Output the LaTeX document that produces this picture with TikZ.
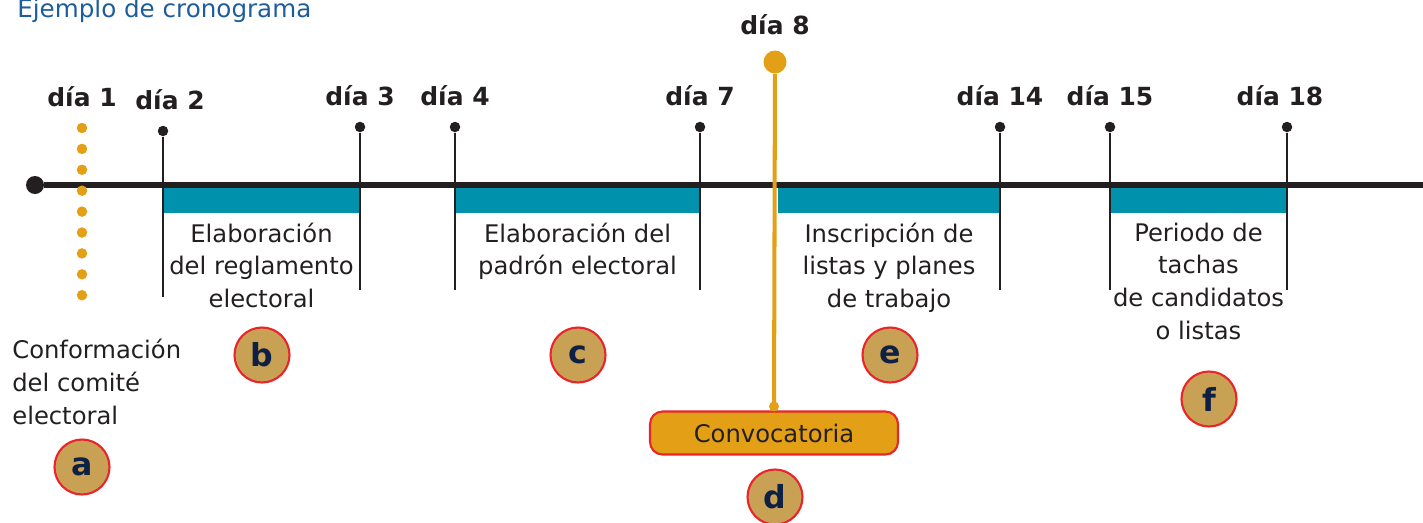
\documentclass[tikz,border=0pt]{standalone}
\usepackage{fontspec}
\setmainfont{DejaVu Sans}
\usepackage{xcolor}
\usetikzlibrary{positioning,calc}

\definecolor{ink}{HTML}{231F20}
\definecolor{barblue}{HTML}{0091AC}
\definecolor{dayorange}{HTML}{E3A017}
\definecolor{badgefill}{HTML}{C9A154}
\definecolor{badgered}{HTML}{E8252B}
\definecolor{navy}{HTML}{0E2145}
\definecolor{titleblue}{HTML}{1D5D9B}

\begin{document}
\begin{tikzpicture}[x=0.02cm,y=-0.02cm,
font=\fontsize{13.8}{18.7}\selectfont, text=ink]

\tikzstyle{tickdot}=[circle, fill=ink, inner sep=0pt, minimum size=0.21cm]
\tikzstyle{tickline}=[ink, line width=1.1pt]
\tikzstyle{daylab}=[font=\fontsize{14.2}{16}\selectfont\bfseries, inner sep=0pt]
\tikzstyle{bar}=[rectangle, fill=barblue, inner sep=0pt, minimum height=0.5cm]
\tikzstyle{phase}=[align=center, inner sep=0pt]
\tikzstyle{odot}=[circle, fill=dayorange, inner sep=0pt, minimum size=0.21cm]
\tikzstyle{badge}=[circle, fill=badgefill, draw=badgered, line width=1.2pt,
minimum size=1.1cm, inner sep=0pt, text=navy, font=\fontsize{18}{18}\selectfont\bfseries]
\tikzstyle{convbox}=[rectangle, rounded corners=0.25cm, fill=dayorange, draw=badgered,
line width=1.2pt, minimum width=4.96cm, minimum height=0.86cm]

\useasboundingbox (0,0) rectangle (1423,522);

%title
\node[anchor=base west, inner sep=0pt, text=titleblue, font=\fontsize{14}{14}\selectfont]
(title) at (17,17) {Ejemplo de cronograma};

%bars
\node[bar, minimum width=3.94cm] (bb) at (261.5,200.5) {};
\node[bar, minimum width=4.9cm] (bc) at (577.5,200.5) {};
\node[bar, minimum width=4.44cm] (be) at (889,200.5) {};
\node[bar, minimum width=3.54cm] (bf) at (1198.5,200.5) {};

%main line
\node[circle, fill=ink, inner sep=0pt, minimum size=0.36cm] (start) at (35,185) {};
\coordinate (end) at (1423,185);
\draw[ink, line width=3.3pt] (start) -- (end);

%day ticks
\node[odot] (d1) at (82,128) {};
\foreach \i in {1,...,8}
  \node[odot] (o\i) at (82,{128+20.9*\i}) {};
\node[daylab] (l1) [above=0.3cm of d1] {día 1};

\foreach \x/\n/\t/\b in {163/2/131/297, 360/3/127/290, 455/4/127/290, 700/7/127/290,
  1000/14/127/290, 1110/15/127/290, 1287/18/127/290}{
  \node[tickdot] (d\n) at (\x,\t) {};
  \coordinate (b\n) at (\x,\b);
  \draw[tickline] (d\n) -- (b\n);
}
\node[daylab] (l2) [above=0.3cm of d2, xshift=0.14cm] {día 2};
\node[daylab] (l3) [above=0.3cm of d3] {día 3};
\node[daylab] (l4) [above=0.3cm of d4] {día 4};
\node[daylab] (l7) [above=0.3cm of d7] {día 7};
\node[daylab] (l14) [above=0.3cm of d14] {día 14};
\node[daylab] (l15) [above=0.3cm of d15] {día 15};
\node[daylab] (l18) [above=0.3cm of d18, xshift=-0.14cm] {día 18};

%day 8
\node[circle, fill=dayorange, inner sep=0pt, minimum size=0.46cm] (d8) at (775,62) {};
\node[daylab] (l8) [above=0.3cm of d8] {día 8};
\node[convbox] (conv) at (774,433) {Convocatoria};
\draw[dayorange, line width=2.3pt] (d8) -- (conv.north);
\fill[dayorange] ($(conv.north)+(0,-4)$) circle (0.1cm);

%phase texts
\node[phase, align=left, anchor=north west] (ta) at (12,339) {Conformación\\del comité\\electoral};
\node[phase] (tb) [below=0.18cm of bb] {Elaboración\\del reglamento\\electoral};
\node[phase] (tc) [below=0.18cm of bc] {Elaboración del\\padrón electoral};
\node[phase] (te) [below=0.18cm of be] {Inscripción de\\listas y planes\\de trabajo};
\node[phase] (tf) [below=0.18cm of bf] {Periodo de\\tachas\\de candidatos\\o listas};

%badges
\node[badge] (ba) at (82,467) {a};
\node[badge] (bdb) at (262,355) {b};
\node[badge] (bdc) at (578,355) {c};
\node[badge] (bdd) at (775,497) {d};
\node[badge] (bde) at (890,355) {e};
\node[badge] (bdf) at (1209,399) {f};

\end{tikzpicture}
\end{document}
